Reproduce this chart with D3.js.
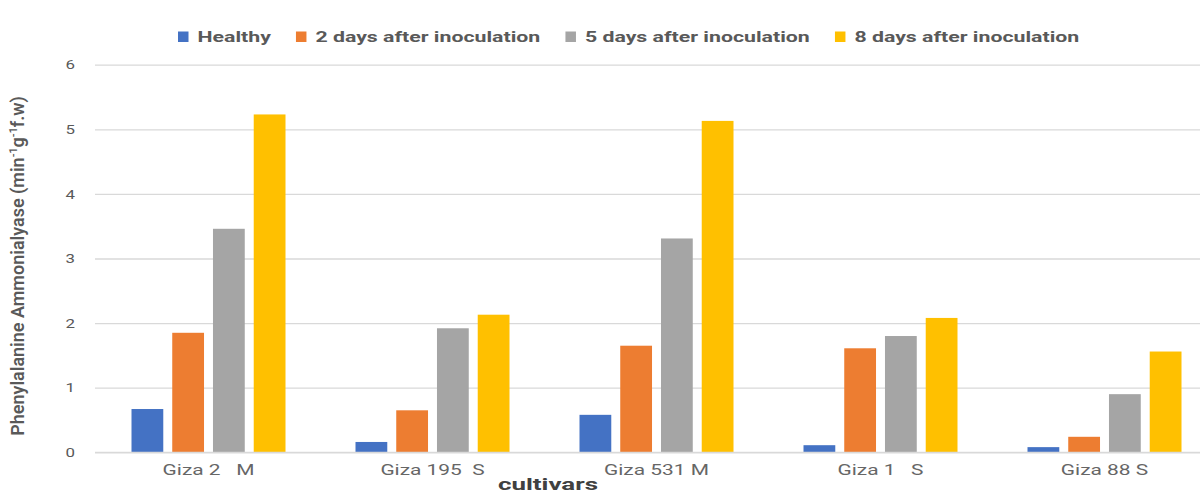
<!DOCTYPE html>
<html>
<head>
<meta charset="utf-8">
<script src="https://cdn.jsdelivr.net/npm/d3@7"></script>
<style>
  html, body { margin: 0; padding: 0; background: #fff; }
  svg { display: block; }
  text { font-family: Roboto, "Noto Sans", "DejaVu Sans", sans-serif; fill: #595959; }
</style>
</head>
<body>
<svg id="chart" width="1200" height="495"></svg>
<script>
// Phenylalanine ammonia-lyase activity per cultivar and sampling time
const categories = ["Giza 2   M", "Giza 195  S", "Giza 531 M", "Giza 1   S", "Giza 88 S"];
const seriesNames = ["Healthy", "2 days after inoculation", "5 days after inoculation", "8 days after inoculation"];
const healthy = [0.67, 0.16, 0.58, 0.11, 0.08];
const day2 = [1.85, 0.65, 1.65, 1.61, 0.24];
const day5 = [3.46, 1.92, 3.31, 1.80, 0.90];
const day8 = [5.23, 2.13, 5.13, 2.08, 1.56];
const yTicks = [0, 1, 2, 3, 4, 5, 6];
const colors = ["#4472C4", "#ED7D31", "#A5A5A5", "#FFC000"];

const seriesValues = [healthy, day2, day5, day8];
const rows = categories.map((c, i) => ({
  category: c,
  values: seriesNames.map((s, j) => ({ series: s, value: seriesValues[j][i], idx: j }))
}));

const svg = d3.select("#chart");
svg.append("rect").attr("width", 1200).attr("height", 495).attr("fill", "#fff");

const plot = { left: 96.5, right: 1216.5, top: 64.7, bottom: 452.3 };

const x0 = d3.scaleBand()
  .domain(categories)
  .range([plot.left, plot.right])
  .paddingInner(0.3125)
  .paddingOuter(0.15625);

const x1 = d3.scaleBand()
  .domain(seriesNames)
  .range([0, x0.bandwidth()])
  .paddingInner(0.22);

const y = d3.scaleLinear().domain([0, 6]).range([plot.bottom, plot.top]);

// Horizontal gridlines and value labels
const gridW = plot.right - 95;
const yAxis = svg.append("g")
  .attr("transform", "translate(95,0)")
  .call(d3.axisLeft(y).tickValues(yTicks).tickSize(-gridW).tickPadding(0).tickFormat(d3.format("d")));
yAxis.select(".domain").remove();
yAxis.selectAll(".tick line").attr("stroke", "#D9D9D9").attr("stroke-width", 1.3);
yAxis.selectAll(".tick text")
  .attr("x", 0)
  .attr("font-size", 13)
  .attr("text-anchor", "end")
  .attr("transform", "translate(-20,0) scale(1.3,1)")
  .style("fill", "#595959");

// Bars
const groups = svg.append("g").selectAll("g")
  .data(rows)
  .join("g")
  .attr("transform", d => `translate(${x0(d.category)},0)`);

groups.selectAll("rect")
  .data(d => d.values)
  .join("rect")
  .attr("x", d => x1(d.series))
  .attr("y", d => y(d.value))
  .attr("width", x1.bandwidth())
  .attr("height", d => y(0) - y(d.value))
  .attr("fill", d => colors[d.idx]);

// Category axis
const xAxis = svg.append("g")
  .attr("transform", `translate(0,${plot.bottom})`)
  .call(d3.axisBottom(x0).tickSize(0).tickPadding(0));
xAxis.select(".domain").remove();
svg.append("line")
  .attr("x1", 95).attr("x2", plot.right)
  .attr("y1", plot.bottom).attr("y2", plot.bottom)
  .attr("stroke", "#D9D9D9").attr("stroke-width", 1.3);

const catText = xAxis.selectAll(".tick text")
  .attr("font-size", 14)
  .attr("y", 0)
  .attr("dy", 0)
  .style("white-space", "pre")
  .attr("xml:space", "preserve")
  .style("fill", "#666");
// widen glyphs to the chart's stretched label style
let refW = 0;
catText.each(function (d) { if (d === "Giza 531 M") refW = this.getComputedTextLength(); });
const catScale = refW ? 105 / refW : 1.4;
catText.attr("transform", `translate(0,22.5) scale(${catScale},1)`);

// X axis title
const xt = svg.append("text")
  .text("cultivars")
  .attr("font-size", 16)
  .attr("font-weight", "bold")
  .attr("text-anchor", "middle")
  .style("fill", "#404040");
const xtW = xt.node().getComputedTextLength();
xt.attr("transform", `translate(548,490) scale(${100 / xtW},1)`);

// Y axis title with superscripts
const yt = svg.append("text")
  .attr("font-size", 17)
  .attr("font-weight", 600)
  .attr("text-anchor", "middle")
  .style("fill", "#595959");
yt.append("tspan").text("Phenylalanine Ammonialyase (min");
yt.append("tspan").text("-1").attr("font-size", 10).attr("dy", -7);
yt.append("tspan").text("g").attr("dy", 7);
yt.append("tspan").text("-1").attr("font-size", 10).attr("dy", -7);
yt.append("tspan").text("f.w)").attr("dy", 7);
const ytW = yt.node().getComputedTextLength();
yt.attr("transform", `translate(24,266) rotate(-90) scale(${340 / ytW},1.05)`);

// Legend
const legend = svg.append("g");
let lx = 178;
let legendScale = null;
seriesNames.forEach((name, i) => {
  legend.append("rect")
    .attr("x", lx).attr("y", 31.5)
    .attr("width", 10.5).attr("height", 10.5)
    .attr("fill", colors[i]);
  const t = legend.append("text")
    .text(name)
    .attr("font-size", 14)
    .attr("font-weight", "bold")
    .style("fill", "#595959");
  const w = t.node().getComputedTextLength();
  if (legendScale === null) {
    const probe = legend.append("text").text(seriesNames[1]).attr("font-size", 14).attr("font-weight", "bold");
    legendScale = 225 / probe.node().getComputedTextLength();
    probe.remove();
  }
  const tx = lx + 19.5;
  t.attr("transform", `translate(${tx},42) scale(${legendScale},1.05)`);
  lx = tx + w * legendScale + 25;
});
</script>
</body>
</html>
